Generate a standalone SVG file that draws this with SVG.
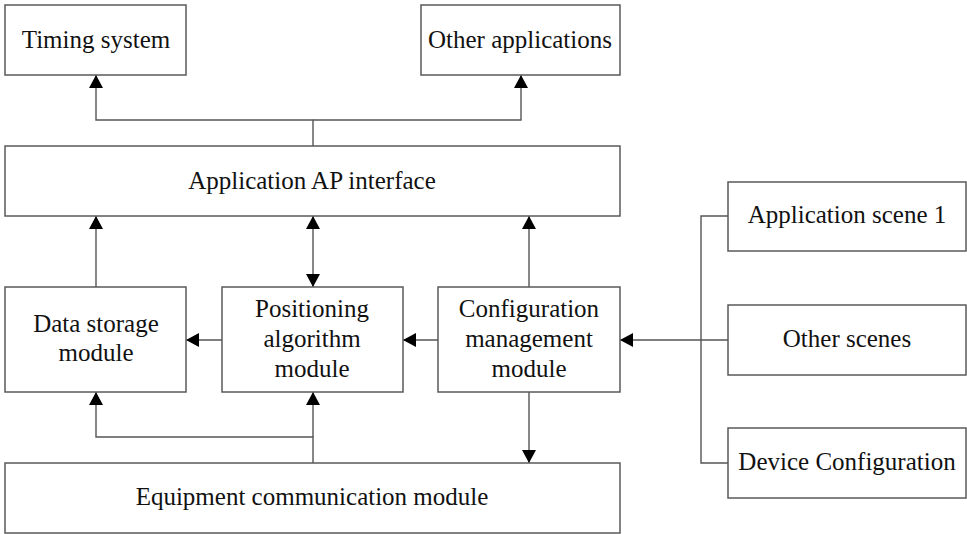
<svg xmlns="http://www.w3.org/2000/svg" width="967" height="534" viewBox="0 0 967 534">
<style>
.box{fill:#fff;stroke:#5a5a5a;stroke-width:1.5}
.t{font-family:'Times New Roman','Liberation Serif',Times,'DejaVu Serif',serif;font-size:25px;fill:#111;text-anchor:middle}
.c{fill:none;stroke:#555;stroke-width:1.4}
</style>
<defs>
<marker id="ah" markerUnits="userSpaceOnUse" markerWidth="14" markerHeight="14" refX="13" refY="7" orient="auto-start-reverse">
<path d="M0,0 L13,7 L0,14 z" fill="#000"/>
</marker>
</defs>
<rect width="967" height="534" fill="#fff"/>
<g id="connectors">
<polyline class="c" points="313,146 313,120 96,120 96,75" marker-end="url(#ah)"/>
<polyline class="c" points="313,120 521,120 521,75" marker-end="url(#ah)"/>
<line class="c" x1="96" y1="287" x2="96" y2="216" marker-end="url(#ah)"/>
<line class="c" x1="313" y1="216" x2="313" y2="287" marker-start="url(#ah)" marker-end="url(#ah)"/>
<line class="c" x1="529" y1="287" x2="529" y2="216" marker-end="url(#ah)"/>
<line class="c" x1="222" y1="340" x2="186" y2="340" marker-end="url(#ah)"/>
<line class="c" x1="438" y1="340" x2="403" y2="340" marker-end="url(#ah)"/>
<line class="c" x1="728" y1="340" x2="620" y2="340" marker-end="url(#ah)"/>
<polyline class="c" points="728,216 701,216 701,463 728,463"/>
<line class="c" x1="529" y1="392" x2="529" y2="463" marker-end="url(#ah)"/>
<polyline class="c" points="313,463 313,437 96,437 96,392" marker-end="url(#ah)"/>
<line class="c" x1="313" y1="437" x2="313" y2="392" marker-end="url(#ah)"/>
</g>
<g id="timing"><rect class="box" x="5" y="5" width="181" height="70"/><text class="t" x="96" y="48">Timing system</text></g>
<g id="otherapps"><rect class="box" x="421" y="5" width="199" height="70"/><text class="t" x="520" y="48">Other applications</text></g>
<g id="apinterface"><rect class="box" x="5" y="146" width="615" height="70"/><text class="t" x="312" y="189">Application AP interface</text></g>
<g id="datastorage"><rect class="box" x="5" y="287" width="181" height="105"/><text class="t" x="96" y="332">Data storage</text><text class="t" x="96" y="361">module</text></g>
<g id="positioning"><rect class="box" x="222" y="287" width="181" height="105"/><text class="t" x="312" y="317">Positioning</text><text class="t" x="312" y="347">algorithm</text><text class="t" x="312" y="377">module</text></g>
<g id="config"><rect class="box" x="438" y="287" width="182" height="105"/><text class="t" x="529" y="317">Configuration</text><text class="t" x="529" y="347">management</text><text class="t" x="529" y="377">module</text></g>
<g id="scene1"><rect class="box" x="728" y="182" width="238" height="69"/><text class="t" x="847" y="223">Application scene 1</text></g>
<g id="otherscenes"><rect class="box" x="728" y="305" width="238" height="70"/><text class="t" x="847" y="347">Other scenes</text></g>
<g id="deviceconfig"><rect class="box" x="728" y="428" width="238" height="70"/><text class="t" x="847" y="470">Device Configuration</text></g>
<g id="equipment"><rect class="box" x="5" y="463" width="615" height="70"/><text class="t" x="312" y="505">Equipment communication module</text></g>
</svg>
